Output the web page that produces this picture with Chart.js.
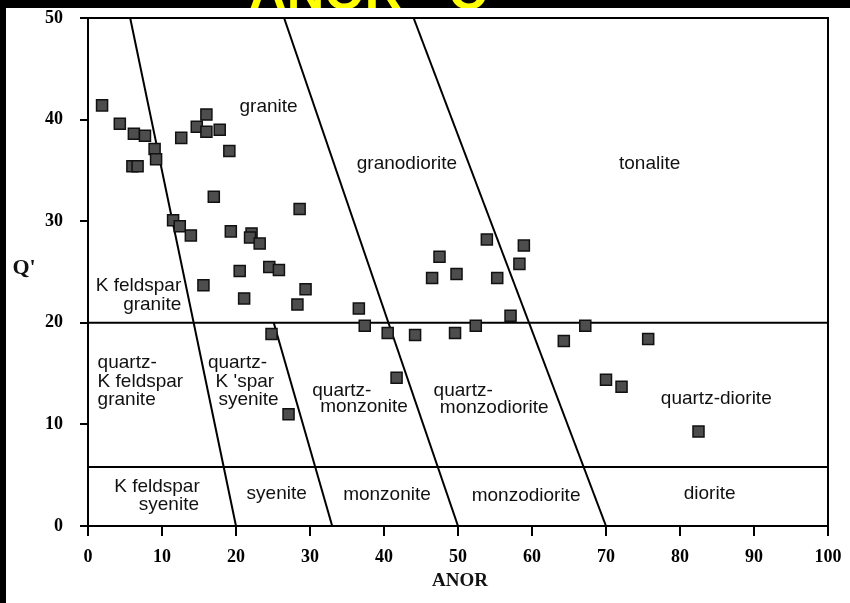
<!DOCTYPE html>
<html>
<head>
<meta charset="utf-8">
<script src="https://cdn.jsdelivr.net/npm/chart.js@4/dist/chart.umd.min.js"></script>
<style>
  html, body { margin: 0; padding: 0; background: #000; }
  #wrap { width: 850px; height: 603px; position: relative; }
</style>
</head>
<body>
<div id="wrap"><canvas id="anorQ"></canvas></div>
<script>
// sample analyses: ANOR and Q'
const anor = [1.9, 4.3, 6.2, 7.7, 9.0, 9.2, 6.0, 6.7, 12.6, 14.7, 16.0, 16.0, 17.8, 19.1,
  17.0, 28.6, 11.5, 12.4, 13.9, 19.3, 22.1, 21.9, 23.2, 20.5, 24.5, 25.8, 15.6, 29.4,
  21.1, 28.3, 24.8, 27.1, 36.6, 37.4, 40.5, 41.7, 44.2, 47.5, 46.5, 49.8, 49.6, 52.4,
  53.9, 55.3, 58.9, 58.3, 57.1, 64.3, 67.2, 70.0, 72.1, 75.7, 82.5];
const qPrime = [41.4, 39.6, 38.6, 38.4, 37.1, 36.1, 35.4, 35.4, 38.2, 39.3, 40.5, 38.8, 39.0, 36.9,
  32.4, 31.2, 30.1, 29.5, 28.6, 29.0, 28.8, 28.4, 27.8, 25.1, 25.5, 25.2, 23.7, 23.3,
  22.4, 21.8, 18.9, 11.0, 21.4, 19.7, 19.0, 14.6, 18.8, 26.5, 24.4, 24.8, 19.0, 19.7,
  28.2, 24.4, 27.6, 25.8, 20.7, 18.2, 19.7, 14.4, 13.7, 18.4, 9.3];

// field boundaries as [ANOR, Q'] end points
const upperDivide = [[0, 20], [100, 20]];
const lowerDivide = [[0, 5.8], [100, 5.8]];
const alkaliLine = [[5.7, 50], [20, 0]];
const graniteLine = [[26.5, 50], [50, 0]];
const tonaliteLine = [[44, 50], [70, 0]];
const syeniteLine = [[25.1, 20], [33, 0]];

// rock names, one entry per text line: [text, ANOR, Q', align]
const fieldNames = [
  ['granite', 24.4, 41.3, 'center'],
  ['granodiorite', 43.1, 35.7, 'center'],
  ['tonalite', 75.9, 35.7, 'center'],
  ['K feldspar', 12.6, 23.6, 'right'],
  ['granite', 12.6, 21.8, 'right'],
  ['quartz-', 1.3, 16.1, 'left'],
  ['K feldspar', 1.3, 14.2, 'left'],
  ['granite', 1.3, 12.4, 'left'],
  ['quartz-', 20.2, 16.1, 'center'],
  ['K \'spar', 21.2, 14.2, 'center'],
  ['syenite', 21.7, 12.4, 'center'],
  ['quartz-', 34.3, 13.3, 'center'],
  ['monzonite', 37.3, 11.7, 'center'],
  ['quartz-', 50.7, 13.3, 'center'],
  ['monzodiorite', 54.9, 11.6, 'center'],
  ['quartz-diorite', 84.9, 12.5, 'center'],
  ['K feldspar', 15.1, 3.9, 'right'],
  ['syenite', 15.0, 2.1, 'right'],
  ['syenite', 25.5, 3.2, 'center'],
  ['monzonite', 40.4, 3.05, 'center'],
  ['monzodiorite', 59.2, 2.95, 'center'],
  ['diorite', 84.0, 3.15, 'center']
];

const toXY = pts => pts.map(([x, y]) => ({ x, y }));
const boundary = pts => ({
  data: toXY(pts),
  showLine: true,
  borderColor: '#000',
  borderWidth: 2,
  pointRadius: 0,
  order: 2
});

const serif = '"Liberation Serif", "Times New Roman", serif';
const sans = '"Liberation Sans", Arial, sans-serif';

const backdrop = {
  id: 'backdrop',
  beforeDraw(chart) {
    const c = chart.ctx;
    c.save();
    c.fillStyle = '#000';
    c.fillRect(0, 0, chart.width, chart.height);
    c.fillStyle = '#ffff00';
    c.font = 'bold 52px ' + sans;
    c.textAlign = 'center';
    c.textBaseline = 'alphabetic';
    c.fillText('ANOR - Q', 369, 9);
    c.fillStyle = '#fff';
    c.fillRect(6, 8, chart.width - 6, chart.height - 8);
    c.restore();
  }
};

const fieldText = {
  id: 'fieldText',
  afterDatasetsDraw(chart) {
    const c = chart.ctx;
    const { x, y } = chart.scales;
    c.save();
    c.fillStyle = '#111';
    c.font = '19px ' + sans;
    c.textBaseline = 'middle';
    fieldNames.forEach(([t, a, q, align]) => {
      c.textAlign = align;
      c.fillText(t, x.getPixelForValue(a), y.getPixelForValue(q));
    });
    // frame round the plot
    const ca = chart.chartArea;
    c.strokeStyle = '#000';
    c.lineWidth = 2;
    c.strokeRect(ca.left, ca.top, ca.right - ca.left, ca.bottom - ca.top);
    // axis titles
    c.font = 'bold 19px ' + serif;
    c.textAlign = 'center';
    c.fillText('ANOR', 460, 581);
    c.font = 'bold 22px ' + serif;
    c.fillText('Q\'', 24, 268);
    c.restore();
  }
};

new Chart(document.getElementById('anorQ'), {
  type: 'scatter',
  data: {
    datasets: [
      {
        data: anor.map((a, i) => ({ x: a, y: qPrime[i] })),
        pointStyle: 'rect',
        pointRadius: 7.8,
        backgroundColor: '#4d4d4d',
        borderColor: '#111',
        borderWidth: 1.5,
        order: 1
      },
      boundary(upperDivide),
      boundary(lowerDivide),
      boundary(alkaliLine),
      boundary(graniteLine),
      boundary(tonaliteLine),
      boundary(syeniteLine)
    ]
  },
  options: {
    responsive: true,
    maintainAspectRatio: false,
    animation: false,
    events: [],
    layout: { padding: { left: 0, top: 18, right: 22, bottom: 0 } },
    plugins: { legend: { display: false }, tooltip: { enabled: false } },
    scales: {
      x: {
        type: 'linear', min: 0, max: 100,
        afterFit(s) { s.height = 77; s.paddingLeft = 0; s.paddingRight = 0; },
        grid: { drawOnChartArea: false, drawTicks: true, tickLength: 10, color: '#000', lineWidth: 2 },
        border: { display: true, color: '#000', width: 2 },
        ticks: { stepSize: 10, color: '#000', padding: 11, maxRotation: 0,
          font: { family: serif, weight: 'bold', size: 18 } }
      },
      y: {
        type: 'linear', min: 0, max: 50,
        afterFit(s) { s.width = 88; s.paddingTop = 0; s.paddingBottom = 0; },
        grid: { drawOnChartArea: false, drawTicks: true, tickLength: 8, color: '#000', lineWidth: 2 },
        border: { display: true, color: '#000', width: 2 },
        ticks: { stepSize: 10, color: '#000', padding: 17,
          font: { family: serif, weight: 'bold', size: 18 } }
      }
    }
  },
  plugins: [backdrop, fieldText]
});
</script>
</body>
</html>
